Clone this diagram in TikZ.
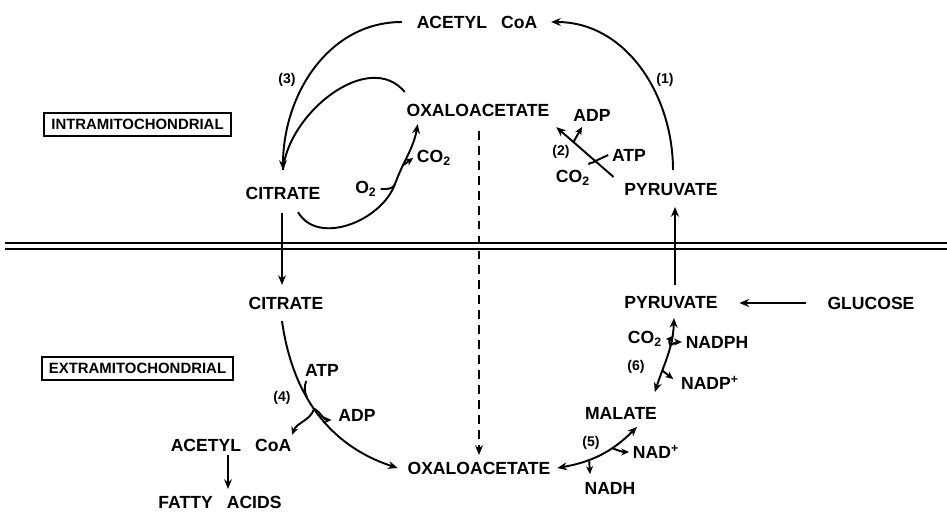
\documentclass[tikz,border=0pt]{standalone}
\usepackage{fontspec}
\setmainfont{Liberation Sans}
\usetikzlibrary{arrows.meta}

\begin{document}
\begin{tikzpicture}[x=0.02cm, y=-0.02cm, >={Stealth[length=5.5pt,width=4.5pt]},
  met/.style={font=\bfseries, inner sep=2pt},
  num/.style={font=\fontsize{8}{10}\selectfont\bfseries, inner sep=1pt},
  region/.style={draw, line width=1.2pt, font=\fontsize{8.5}{10}\selectfont\bfseries, minimum height=0.44cm, inner xsep=4pt},
  flow/.style={line width=1.1pt},
  side/.style={line width=1.1pt, -{Stealth[length=4.5pt,width=4pt]}}]
\useasboundingbox (0,0) rectangle (947,511);

\draw[line width=1.2pt] (5,243) -- (947,243);
\draw[line width=1.2pt] (5,249) -- (947,249);

\node[region] (intra) at (137.5,124.5) {INTRAMITOCHONDRIAL};
\node[region] (extra) at (137.5,368.5) {EXTRAMITOCHONDRIAL};

\node[met] (acoa) at (477,22) {ACETYL\hspace{0.8em}CoA};
\node[met] (oaa) at (478,110) {OXALOACETATE};
\node[met] (cit) at (283,193) {CITRATE};
\node[met] (pyr) at (671,190) {PYRUVATE};
\node[met] (o2) at (366,189) {O\textsubscript{2}};
\node[met] (co2a) at (434,158) {CO\textsubscript{2}};
\node[met] (adpa) at (592,115) {ADP};
\node[met] (atpa) at (629,155) {ATP};
\node[met] (co2b) at (573,178) {CO\textsubscript{2}};
\node[num] (n3) at (287,80) {(3)};
\node[num] (n1) at (665,80) {(1)};
\node[num] (n2) at (561,152) {(2)};

\node[met] (cit2) at (286,303) {CITRATE};
\node[met] (pyr2) at (671,303) {PYRUVATE};
\node[met] (glc) at (871,303) {GLUCOSE};
\node[met] (mal) at (621,413) {MALATE};
\node[met] (oaa2) at (479,468) {OXALOACETATE};
\node[met] (acoa2) at (231,445) {ACETYL\hspace{0.8em}CoA};
\node[met] (fa) at (220,502) {FATTY\hspace{0.8em}ACIDS};
\node[met] (atpb) at (322,370) {ATP};
\node[met] (adpb) at (357,415) {ADP};
\node[met] (co2c) at (645,339) {CO\textsubscript{2}};
\node[met] (nadph) at (717,342) {NADPH};
\node[met] (nadp) at (710,383) {NADP\textsuperscript{+}};
\node[met] (nad) at (656,452) {NAD\textsuperscript{+}};
\node[met] (nadh) at (610,488) {NADH};
\node[num] (n4) at (282,398) {(4)};
\node[num] (n6) at (636,367) {(6)};
\node[num] (n5) at (591,443) {(5)};

\coordinate (citin) at ([shift={(0,-13)}]cit.north);
\draw[flow,->] ([shift={(-11,0)}]acoa.west) to[out=180,in=90] (citin);
\draw[flow] ([shift={(2,-8)}]oaa.north west) to[out=130,in=85] (citin);
\draw[flow,->] ([shift={(2,-10)}]pyr.north) to[out=90,in=0] ([shift={(10,0)}]acoa.east);

\coordinate (lp) at (395,184);
\draw[flow,->] ([shift={(15,9)}]cit.south) to[out=-60,in=250] (lp)
  to[out=70,in=-100] coordinate[pos=0.3] (lq) ([shift={(15,4)}]oaa.south west);
\draw[flow] (o2.east) to[out=0,in=250] (lp);
\draw[side] (lq) -- (co2a.west);

\draw[flow,->] ([shift={(-7,-3)}]pyr.north west) -- coordinate[pos=0.32] (r1)
  coordinate[pos=0.7] (r2) ([shift={(3,7)}]oaa.south east);
\draw[flow] (atpa.west) -- (r1);
\draw[flow] ([shift={(-5,-2)}]co2b.north east) to[out=100,in=240] (r1);
\draw[side] (r2) -- ([shift={(-10,2)}]adpa.south);

\draw[flow,->] ([shift={(4,-8)}]pyr2.north) -- ([shift={(4,7)}]pyr.south);
\draw[flow,->] ([shift={(-18,0)}]glc.west) -- ([shift={(18,0)}]pyr2.east);
\draw[flow,->] ([shift={(-1,10)}]cit.south) -- ([shift={(-4,-8)}]cit2.north);
\draw[line width=1pt,dash pattern=on 5pt off 3.5pt,->] ([shift={(1,11)}]oaa.south) -- ([shift={(0,-3)}]oaa2.north);

\draw[flow,->] ([shift={(-4,8)}]cit2.south) to[out=-82,in=162] coordinate[pos=0.4] (b1)
  coordinate[pos=0.47] (b2) ([shift={(-6,0)}]oaa2.west);
\draw[flow] ([shift={(5,1)}]atpb.south west) to[out=-110,in=115] (b1);
\draw[side] (b2) to[out=-110,in=70] ([shift={(-3,0)}]acoa2.north east);
\draw[side] (b2) to[out=-30,in=180] ([shift={(-3,5)}]adpb.west);
\draw[flow,->] ([shift={(-3,0)}]acoa2.south) -- ([shift={(8,-3)}]fa.north);

\draw[flow,<->] ([shift={(-6,-11)}]mal.north east) to[out=72,in=-92] coordinate[pos=0.28] (m1)
  coordinate[pos=0.65] (m2) ([shift={(3,5)}]pyr2.south);
\draw[side] (m2) to[out=120,in=0] (co2c.east);
\draw[side] (m2) to[out=30,in=180] (nadph.west);
\draw[side] (m1) -- ([shift={(-4,-4)}]nadp.west);

\draw[flow,<->] ([shift={(3,0)}]oaa2.east) to[out=10,in=-135] coordinate[pos=0.35] (q1)
  coordinate[pos=0.65] (q2) ([shift={(16,4)}]mal.south);
\draw[side] (q2) to[out=-20,in=180] (nad.west);
\draw[side] (q1) -- ([shift={(-20,-4)}]nadh.north);
\end{tikzpicture}
\end{document}
